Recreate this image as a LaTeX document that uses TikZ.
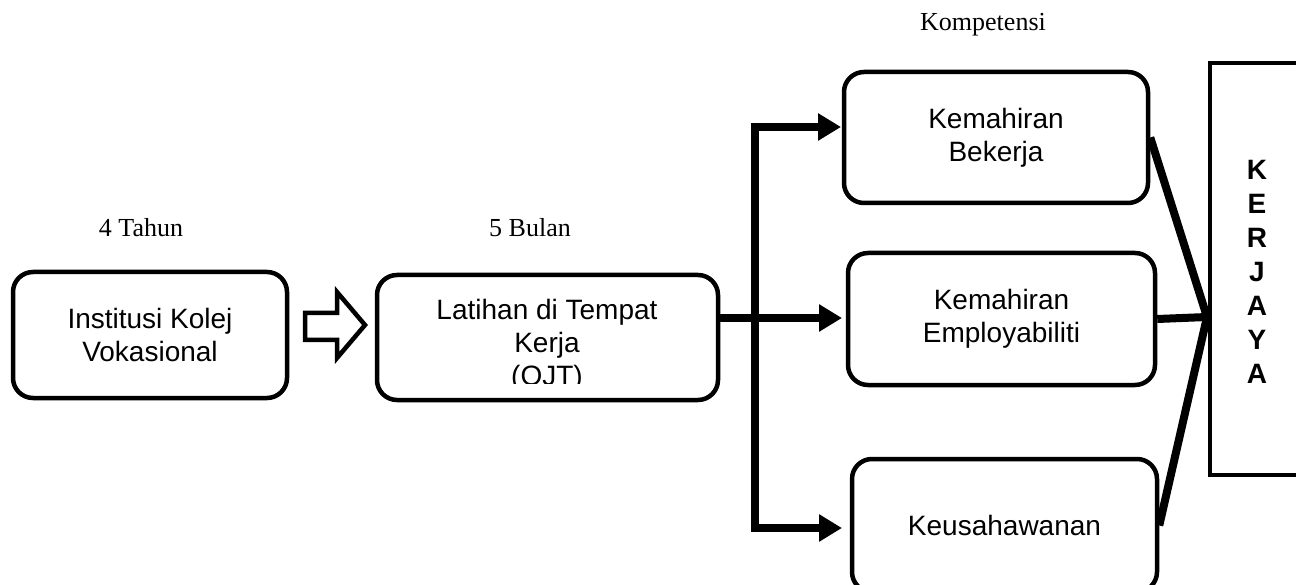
\documentclass[tikz,border=0pt]{standalone}
\usepackage{fontspec}
\setmainfont{Liberation Serif}
\newfontfamily\boxfont{Liberation Sans}
\usetikzlibrary{arrows.meta,calc}
\begin{document}
\begin{tikzpicture}[x=1pt,y=-1pt,
  box/.style={draw, line width=4.5pt, rounded corners=20pt, align=center,
    inner sep=0pt, font=\boxfont\fontsize{28}{33}\selectfont},
  flow/.style={line width=8pt, line join=miter},
  tipend/.style={-{Triangle[length=23pt,width=26pt]}},
  caption/.style={font=\fontsize{26}{30}\selectfont}]
\useasboundingbox (0,0) rectangle (1296,585);

% captions above the stages
\node[caption] (tahun) at (141,228) {4 Tahun};
\node[caption] (bulan) at (530,228) {5 Bulan};
\node[caption] (kompetensi) at (983,25) {Kompetensi};

% stages
\node[box, minimum width=274pt, minimum height=126pt] (inst) at (150,335)
  {Institusi Kolej\\Vokasional};
\node[box, minimum width=341pt, minimum height=125pt] (latihan) at (547.5,337.5) {};
\begin{scope}
  \clip ($(latihan.north west)+(2,2)$) rectangle ($(latihan.south east)+(-2,-19)$);
  \node[align=center, font=\boxfont\fontsize{28}{33}\selectfont] (latihantext)
    at (547,345) {Latihan di Tempat\\Kerja\\(OJT)};
\end{scope}

% competencies
\node[box, minimum width=304pt, minimum height=131pt] (bekerja) at (996,137.5)
  {Kemahiran\\Bekerja};
\node[box, minimum width=307pt, minimum height=132pt] (employ) at (1001.5,319)
  {Kemahiran\\Employabiliti};
\node[box, minimum width=305pt, minimum height=133pt] (keus) at (1004.5,525.5)
  {Keusahawanan};

% career box
\node[draw, line width=4pt, minimum width=120pt, minimum height=412pt, inner sep=0pt]
  (kerjaya) at (1270,269) {};
\node[align=center, font=\boxfont\bfseries\fontsize{28}{34}\selectfont]
  (kerjayatext) at (1257,271.5) {K\\E\\R\\J\\A\\Y\\A};

% hollow arrow between the first two stages
\draw[line width=4.5pt, line join=miter]
  (305,313) -- (337,313) -- (337,292) -- (365,325) -- (337,358)
  -- (337,340) -- (305,340) -- cycle;

% branching connector
\coordinate (topturn) at (755,127);
\coordinate (split) at (755,318);
\coordinate (botturn) at (755,528);
\coordinate (tiptop) at (841,127);
\coordinate (tipmid) at (842,318);
\coordinate (tipbot) at (842,528);
\draw[flow, {Triangle[length=23pt,width=26pt]}-{Triangle[length=23pt,width=26pt]}]
  (tiptop) -- (topturn) -- (botturn) -- (tipbot);
\draw[flow, tipend] (split -| latihan.east) -- (tipmid);

% converging lines into the career box
\coordinate (hub) at (1207,317);
\draw[flow] (bekerja.east) -- (hub);
\draw[flow] (employ.east) -- (hub);
\draw[flow] (keus.east) -- (hub);
\end{tikzpicture}
\end{document}
